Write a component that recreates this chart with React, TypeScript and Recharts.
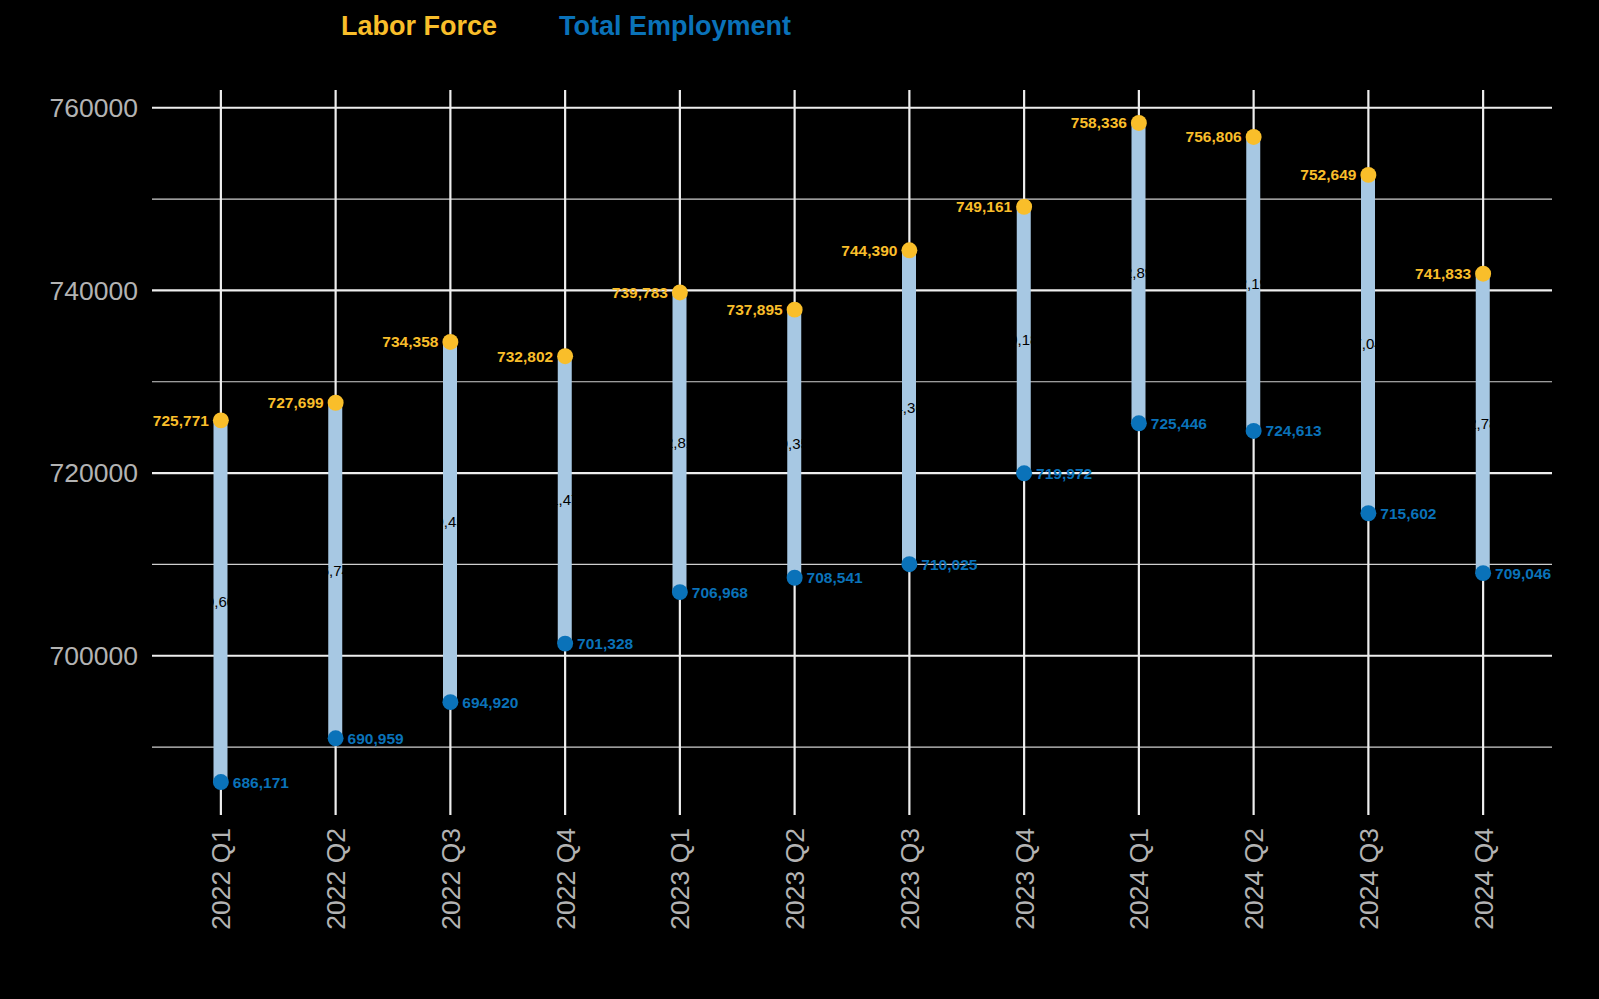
import React from 'react';
import { ComposedChart, Bar, Scatter, XAxis, YAxis, ZAxis, CartesianGrid, LabelList } from 'recharts';

const categories = ['2022 Q1', '2022 Q2', '2022 Q3', '2022 Q4', '2023 Q1', '2023 Q2', '2023 Q3', '2023 Q4', '2024 Q1', '2024 Q2', '2024 Q3', '2024 Q4'];
const laborForce = [725771, 727699, 734358, 732802, 739783, 737895, 744390, 749161, 758336, 756806, 752649, 741833];
const employment = [686171, 690959, 694920, 701328, 706968, 708541, 710025, 719972, 725446, 724613, 715602, 709046];
const majorTicks = [700000, 720000, 740000, 760000];
const minorTicks = [690000, 710000, 730000, 750000];

const rows = categories.map((cat, i) => ({
  cat,
  lf: laborForce[i],
  emp: employment[i],
  range: [employment[i], laborForce[i]],
  diff: laborForce[i] - employment[i],
}));

const YELLOW = '#F9BE2A';
const BLUE = '#0A72B9';
const LIGHT = '#A7C8E3';
const fmt = (v: any) => Number(v).toLocaleString('en-US');

const XTick = (props: any) => {
  const { x, y, payload } = props;
  return (
    <text
      x={x}
      y={y}
      transform={`rotate(-90, ${x}, ${y})`}
      textAnchor="end"
      dy="0.36em"
      fill="#b3b3b3"
      fontSize={26.5}
    >
      {payload.value}
    </text>
  );
};

export default function App() {
  return (
    <div style={{ position: 'relative', width: 1599, height: 999, background: '#000', fontFamily: '"Liberation Sans", Arial, sans-serif' }}>
      <style>{`body{margin:0;background:#000;}`}</style>
      <div style={{ position: 'absolute', top: 11, left: 341, lineHeight: '30px', fontSize: 27, fontWeight: 'bold', whiteSpace: 'nowrap' }}>
        <span style={{ color: YELLOW }}>Labor Force</span>
        <span style={{ color: BLUE, marginLeft: 62 }}>Total Employment</span>
      </div>
      <ComposedChart width={1599} height={999} data={rows} margin={{ top: 90, right: 47, bottom: 0, left: 0 }}>
        <CartesianGrid horizontalValues={minorTicks} vertical={false} stroke="#cfcfcf" strokeWidth={1.2} />
        <CartesianGrid horizontalValues={majorTicks} vertical={false} stroke="#eeeeee" strokeWidth={2.2} />
        <CartesianGrid horizontal={false} verticalValues={categories} stroke="#eeeeee" strokeWidth={2.2} />
        <XAxis
          dataKey="cat"
          type="category"
          allowDuplicatedCategory={false}
          padding={{ left: 11.5, right: 11.5 }}
          interval={0}
          axisLine={false}
          tickLine={false}
          tickSize={0}
          tickMargin={13}
          height={184}
          tick={<XTick />}
        />
        <YAxis
          type="number"
          domain={[682563, 761944]}
          ticks={majorTicks}
          allowDataOverflow
          width={152}
          axisLine={false}
          tickLine={false}
          tickSize={0}
          tickMargin={14}
          tick={{ fill: '#b3b3b3', fontSize: 26.5 }}
        />
        <ZAxis range={[200, 200]} />
        <Bar dataKey="range" barSize={14} fill={LIGHT} isAnimationActive={false}>
          <LabelList dataKey="diff" position="center" formatter={fmt} fill="#000" fontSize={15} />
        </Bar>
        <Scatter dataKey="lf" fill={YELLOW} isAnimationActive={false}>
          <LabelList dataKey="lf" position="left" offset={4} formatter={fmt} fill={YELLOW} fontSize={15.5} fontWeight="bold" />
        </Scatter>
        <Scatter dataKey="emp" fill={BLUE} isAnimationActive={false}>
          <LabelList dataKey="emp" position="right" offset={4} formatter={fmt} fill={BLUE} fontSize={15.5} fontWeight="bold" />
        </Scatter>
      </ComposedChart>
    </div>
  );
}
